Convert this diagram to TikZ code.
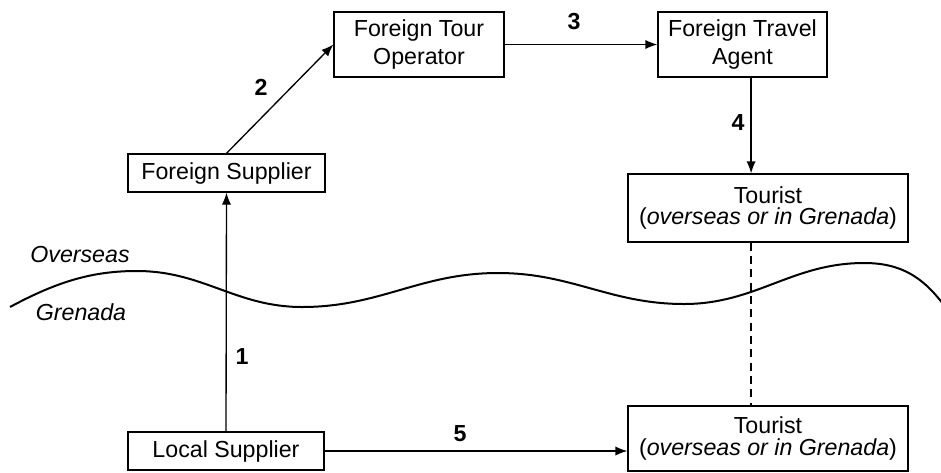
\documentclass[tikz,border=0pt]{standalone}
\usepackage{fontspec}
\setmainfont{Liberation Sans}
\usepackage{tikz}
\usetikzlibrary{arrows.meta, positioning}

\begin{document}
\begin{tikzpicture}[x=0.75pt, y=-0.75pt,
  box/.style={draw, line width=1pt, inner sep=0pt, align=center,
    font=\fontsize{17.4}{21}\selectfont},
  tbox/.style={box, font=\fontsize{17.4}{16}\selectfont},
  num/.style={font=\fontsize{17.4}{20}\selectfont\bfseries},
  side/.style={font=\fontsize{17.4}{20}\selectfont\itshape},
  link/.style={line width=1pt, -{Latex[length=9pt,width=7pt]}}]

% px -> pt
\def\u{0.75pt}

\useasboundingbox (0,0) rectangle (941,472);

% ------------------------
% Top row: overseas chain
% ------------------------
\node[box, minimum width=170*\u, minimum height=65*\u] (ftour) at (419,44.5) {Foreign Tour\\Operator};
\node[box, minimum width=169*\u, minimum height=65*\u] (fagent) at (742.5,44.5) {Foreign Travel\\Agent};
\node[box, minimum width=197*\u, minimum height=38*\u] (fsupp) at (226.5,173) {Foreign Supplier};
\node[tbox, minimum width=280*\u, minimum height=68*\u] (tourtop) at (768,208) {Tourist\\(\textit{overseas or in Grenada})};

% ------------------------
% Bottom row: in Grenada
% ------------------------
\node[box, minimum width=196*\u, minimum height=38*\u] (lsupp) at (226,451) {Local Supplier};
\node[tbox, minimum width=280*\u, minimum height=65*\u] (tourbot) at (768,438.5) {Tourist\\(\textit{overseas or in Grenada})};

% border between the two
\draw[line width=1.5pt] (10,307) .. controls (60,280) and (95,271) .. (137,271)
  .. controls (203,271) and (236,307) .. (302,307)
  .. controls (380,307) and (420,273) .. (498,273)
  .. controls (572,273) and (610,304) .. (684,304)
  .. controls (756,304) and (792,263) .. (864,263)
  .. controls (900,263) and (925,276) .. (950,314);
\node[side] (over) at (80,255) {Overseas};
\node[side] (gren) at (81,312) {Grenada};

% ------------------------
% Flows
% ------------------------
\draw[link] (lsupp.north) -- (fsupp.south);
\draw[link] (fsupp.north) -- (ftour.west);
\draw[link] (ftour.east) -- (fagent.west);
\draw[link] ([xshift=8.6*\u]fagent.south) coordinate (a4) -- (a4 |- tourtop.north);
\draw[link] (lsupp.east) -- (lsupp.east -| tourbot.west);
\draw[line width=1pt, dash pattern=on 6pt off 4pt] (a4 |- tourtop.south) -- (a4 |- tourbot.north);

\node[num] (n1) at (242,357) {1};
\node[num] (n2) at (261,87) {2};
\node[num] (n3) at (574,22) {3};
\node[num] (n4) at (738,123) {4};
\node[num] (n5) at (460,434) {5};

\end{tikzpicture}
\end{document}
